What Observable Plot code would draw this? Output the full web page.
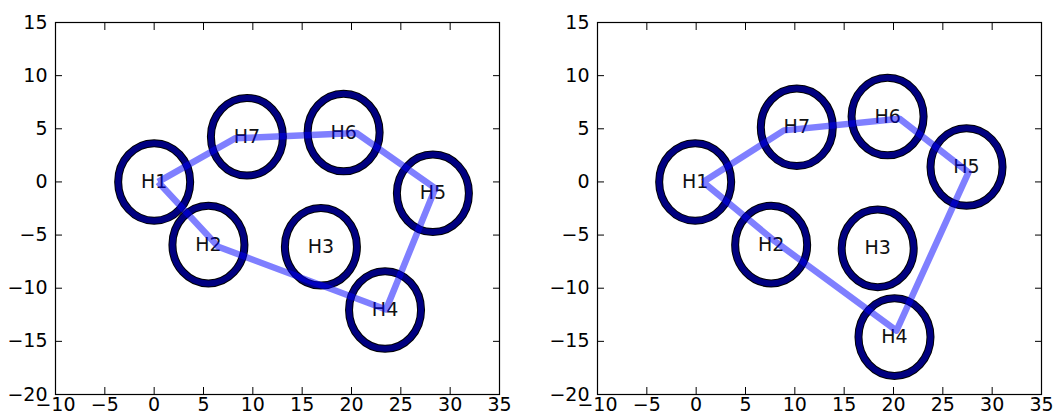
<!DOCTYPE html>
<html><head><meta charset="utf-8">
<script src="https://cdn.jsdelivr.net/npm/d3@7"></script>
<script src="https://cdn.jsdelivr.net/npm/@observablehq/plot@0.6"></script>
<style>
html,body{margin:0;padding:0;background:#fff;}
#row{display:flex;width:1059px;height:417px;overflow:hidden;background:#fff}
</style>
</head><body><div id="row"></div>
<script>
// node labels
const names = ["H1","H2","H3","H4","H5","H6","H7"];
// circle / label centres (left panel)
const leftNodeX = [0, 5.5, 16.9, 23.4, 28.25, 19.2, 9.4];
const leftNodeY = [0, -5.9, -6.1, -12.05, -1.07, 4.65, 4.25];
// circle / label centres (right panel)
const rightNodeX = [-0.1, 7.6, 18.4, 20.1, 27.4, 19.4, 10.2];
const rightNodeY = [0, -5.9, -6.25, -14.6, 1.4, 6.15, 5.15];
// route order and route vertices
const route = ["H1","H7","H6","H5","H4","H2","H1"];
const leftRouteX = [0.4, 8.2, 20.5, 28.5, 23.5, 6.5, 0.4];
const leftRouteY = [0, 4.1, 4.6, -0.6, -12.0, -6.1, 0];
const rightRouteX = [0.7, 8.9, 20.6, 27.6, 20.3, 8.0, 0.7];
const rightRouteY = [0, 4.85, 5.95, 0.9, -14.0, -5.6, 0];
// axes
const xDomain = [-10, 35];
const yDomain = [-20, 15];
const xTicks = [-10,-5,0,5,10,15,20,25,30,35];
const yTicks = [-20,-15,-10,-5,0,5,10,15];
const ringRadius = 3.65; // data units

function ellipseSymbol(k) {
  return {draw(ctx, size) {
    const rx = Math.sqrt(size / Math.PI), ry = rx * k, c = 0.5523;
    ctx.moveTo(rx, 0);
    ctx.bezierCurveTo(rx, c*ry, c*rx, ry, 0, ry);
    ctx.bezierCurveTo(-c*rx, ry, -rx, c*ry, -rx, 0);
    ctx.bezierCurveTo(-rx, -c*ry, -c*rx, -ry, 0, -ry);
    ctx.bezierCurveTo(c*rx, -ry, rx, -c*ry, rx, 0);
    ctx.closePath();
  }};
}

function chart(nodeX, nodeY, routeX, routeY, width, marginLeft, marginRight) {
  const height = 417, marginTop = 22, marginBottom = 23;
  const innerW = width - marginLeft - marginRight;
  const innerH = height - marginTop - marginBottom;
  const pxPerX = innerW / (xDomain[1] - xDomain[0]);
  const pxPerY = innerH / (yDomain[1] - yDomain[0]);
  const sym = ellipseSymbol(pxPerY / pxPerX);
  const nodes = names.map((n, i) => ({name: n, x: nodeX[i], y: nodeY[i]}));
  const path = route.map((n, i) => ({name: n, x: routeX[i], y: routeY[i]}));
  const r = ringRadius * pxPerX;
  return Plot.plot({
    width, height, marginLeft, marginRight, marginTop, marginBottom,
    style: {fontFamily: "'DejaVu Sans', sans-serif", fontSize: "19px", background: "#fff", color: "#000", overflow: "visible"},
    x: {domain: xDomain},
    y: {domain: yDomain},
    marks: [
      Plot.dot(nodes, {x: "x", y: "y", r, symbol: sym, fill: "none", stroke: "#000", strokeWidth: 8}),
      Plot.dot(nodes, {x: "x", y: "y", r, symbol: sym, fill: "none", stroke: "#000080", strokeWidth: 6}),
      Plot.text(nodes, {x: "x", y: "y", text: "name", fontSize: 19, fill: "#111"}),
      Plot.line(path, {x: "x", y: "y", stroke: "#0000ff", strokeOpacity: 0.5, strokeWidth: 6.5, strokeLinejoin: "round", strokeLinecap: "butt"}),
      Plot.axisX({anchor: "bottom", ticks: xTicks, tickSize: -7, tickPadding: 10, label: null, fontSize: 19}),
      Plot.axisX({anchor: "top", ticks: xTicks, tickSize: -7, fill: "none", label: null}),
      Plot.axisY({anchor: "left", ticks: yTicks, tickSize: -7, tickPadding: 15, label: null, fontSize: 19}),
      Plot.axisY({anchor: "right", ticks: yTicks, tickSize: -7, fill: "none", label: null}),
      Plot.frame({stroke: "#000", strokeWidth: 1.2})
    ]
  });
}

const row = document.getElementById("row");
row.appendChild(chart(leftNodeX, leftNodeY, leftRouteX, leftRouteY, 530, 55, 31));
row.appendChild(chart(rightNodeX, rightNodeY, rightRouteX, rightRouteY, 529, 67, 18));
</script>
</body></html>
